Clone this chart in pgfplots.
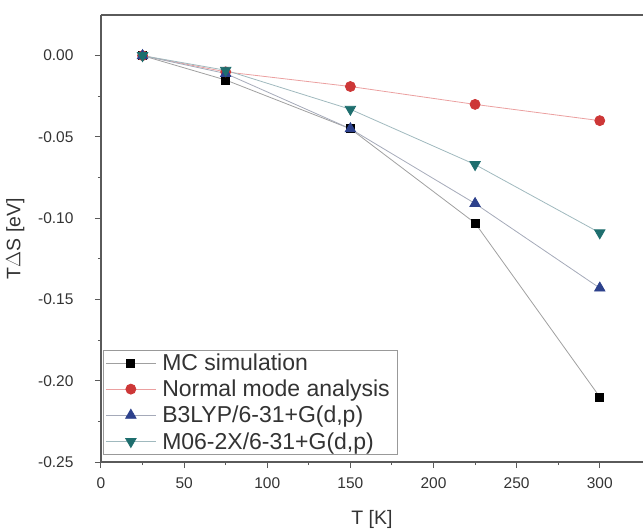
\documentclass[border=0pt]{standalone}
\usepackage{fontspec}
\setmainfont{Liberation Sans}
\usepackage{pgfplots}
\pgfplotsset{compat=1.18}
\definecolor{mcline}{RGB}{160,160,160}
\definecolor{nmred}{RGB}{205,55,55}
\definecolor{nmline}{RGB}{235,160,160}
\definecolor{b3blue}{RGB}{45,65,140}
\definecolor{b3line}{RGB}{165,170,185}
\definecolor{m06teal}{RGB}{30,110,110}
\definecolor{m06line}{RGB}{160,185,190}
\definecolor{axgray}{RGB}{90,90,90}
\begin{document}
\begin{tikzpicture}
\begin{axis}[
    width=542pt, height=447pt, scale only axis,
    xmin=0, xmax=326, ymin=-0.25, ymax=0.025,
    axis x line*=box, axis y line*=left,
    xtick pos=bottom, ytick pos=left,
    tick align=outside,
    major tick length=6pt, minor tick length=3pt,
    minor x tick num=1, minor y tick num=1,
    xtick={0,50,100,150,200,250,300},
    ytick={-0.25,-0.2,-0.15,-0.1,-0.05,0},
    yticklabel style={xshift=-18pt, /pgf/number format/.cd, fixed, fixed zerofill, precision=2, assume math mode=true},
    xticklabel style={yshift=-6pt, /pgf/number format/assume math mode=true},
    tick label style={font=\fontsize{15.5}{18}\selectfont, text=black!80},
    axis line style={axgray, line width=1.2pt},
    every tick/.style={axgray, line width=1pt},
    xlabel={T [K]}, ylabel={T$\Delta$S [eV]},
    label style={font=\fontsize{19.5}{22}\selectfont, text=black!80},
    xlabel style={at={(axis description cs:0.5,-0.128)}, anchor=center},
    ylabel style={at={(axis description cs:-0.158,0.5)}, anchor=center},
    legend style={at={(axis description cs:0.004,0.016)}, anchor=south west,
        draw=black!40, line width=0.6pt, font=\fontsize{23}{25}\selectfont,
        text=black!80, row sep=4pt, inner sep=2pt,
        nodes={inner xsep=6pt}},
    legend cell align=left,
    legend image code/.code={\draw[mark repeat=2,mark phase=2] plot coordinates {(0pt,0pt) (25pt,0pt) (50pt,0pt)};},
]
\addplot[mcline, line width=0.8pt, mark=square*, mark size=4pt, mark options={draw=black, fill=black}] coordinates {
    (25,0) (75,-0.015) (150,-0.045) (225,-0.103) (300,-0.210)
};
\addlegendentry{MC simulation}
\addplot[nmline, line width=0.8pt, mark=*, mark size=5pt, mark options={draw=nmred, fill=nmred}] coordinates {
    (25,0) (75,-0.010) (150,-0.019) (225,-0.030) (300,-0.040)
};
\addlegendentry{Normal mode analysis}
\addplot[b3line, line width=0.8pt, mark=triangle*, mark size=6pt, mark options={draw=b3blue, fill=b3blue}] coordinates {
    (25,0) (75,-0.011) (150,-0.045) (225,-0.091) (300,-0.143)
};
\addlegendentry{B3LYP/6-31+G(d,p)}
\addplot[m06line, line width=0.8pt, mark=triangle*, mark size=6pt, mark options={draw=m06teal, fill=m06teal, rotate=180}] coordinates {
    (25,0) (75,-0.009) (150,-0.033) (225,-0.067) (300,-0.109)
};
\addlegendentry{M06-2X/6-31+G(d,p)}
\end{axis}
\pgfresetboundingbox
\path ([shift={(-101pt,-66pt)}]current axis.south west) rectangle ([shift={(542pt,462pt)}]current axis.south west);
\end{tikzpicture}
\end{document}
